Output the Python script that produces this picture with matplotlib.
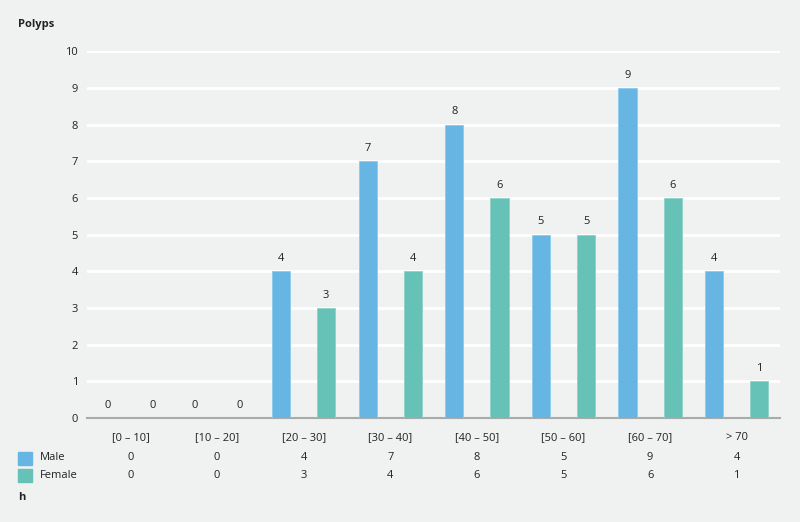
import numpy as np
import matplotlib.pyplot as plt

# data
categories = ['[0 – 10]', '[10 – 20]', '[20 – 30]', '[30 – 40]',
              '[40 – 50]', '[50 – 60]', '[60 – 70]', '> 70']
male = [0, 0, 4, 7, 8, 5, 9, 4]
female = [0, 0, 3, 4, 6, 5, 6, 1]
yticks = [0, 1, 2, 3, 4, 5, 6, 7, 8, 9, 10]

c_male = '#66b5e2'
c_female = '#66c1b6'
bg = '#f0f1f1'

plt.rcParams['font.family'] = ['Open Sans', 'DejaVu Sans']

fig = plt.figure(figsize=(8, 5.22), dpi=100)
fig.patch.set_facecolor(bg)
ax = fig.add_axes([0.109, 0.199, 0.866, 0.703])
ax.set_facecolor(bg)

x = np.arange(len(categories))
w = 0.21
off = 0.26
b1 = ax.bar(x - off, male, w, color=c_male, edgecolor='#8ccaec', linewidth=0.6, zorder=3)
b2 = ax.bar(x + off, female, w, color=c_female, edgecolor='#8ed2ca', linewidth=0.6, zorder=3)

for bars, vals in ((b1, male), (b2, female)):
    for r, v in zip(bars, vals):
        ax.text(r.get_x() + r.get_width() / 2, v + 0.2, str(v), ha='center', va='bottom',
                fontsize=8, color='#222222')

ax.set_xlim(-0.5, 7.5)
ax.set_ylim(0, 10)
ax.set_yticks(yticks)
ax.set_yticklabels([str(t) for t in yticks], fontsize=8, color='#222222')
ax.yaxis.grid(True, color='white', linewidth=2, zorder=0)
ax.tick_params(axis='y', length=0, pad=6.5)
ax.set_xticks(x)
ax.set_xticklabels(categories, fontsize=8, color='#222222')
ax.tick_params(axis='x', length=0, pad=10)
for s in ['top', 'right', 'left']:
    ax.spines[s].set_visible(False)
ax.spines['bottom'].set_color('#a9abab')
ax.spines['bottom'].set_linewidth(1.5)

# axis titles
fig.text(18 / 800, 1 - 25 / 522, 'Polyps', fontsize=8, fontweight='bold', va='center', color='#222222')
fig.text(18 / 800, 1 - 497 / 522, 'h', fontsize=8, fontweight='bold', va='center', color='#222222')

# data table below the axis
rows = [('Male', male, c_male, 458), ('Female', female, c_female, 475)]
for name, vals, col, ypix in rows:
    yf = 1 - ypix / 522
    fig.patches.append(plt.Rectangle((18 / 800, yf - 6.5 / 522), 14 / 800, 13 / 522,
                                     transform=fig.transFigure, color=col))
    fig.text(40 / 800, yf, name, fontsize=8, va='center', color='#222222')
    for i, v in enumerate(vals):
        xf = ax.transData.transform((i, 0))[0] / fig.bbox.width
        fig.text(xf, yf, str(v), fontsize=8, ha='center', va='center', color='#222222')

fig.savefig('out.png', dpi=100, facecolor=bg)
